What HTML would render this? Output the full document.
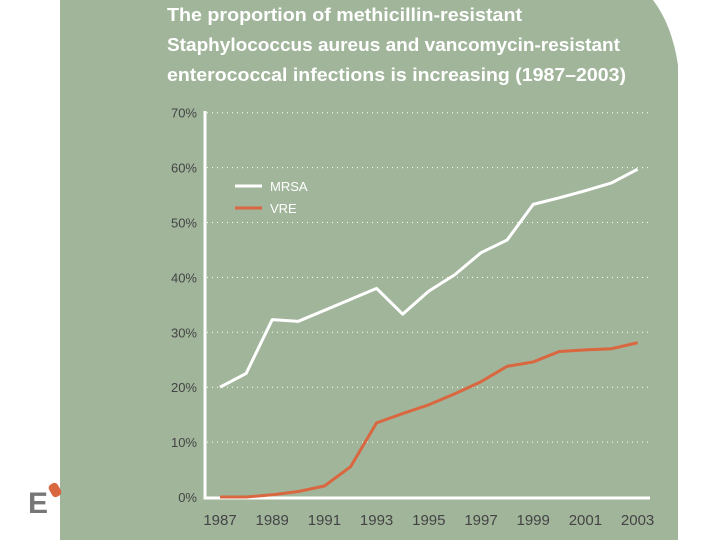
<!DOCTYPE html>
<html><head><meta charset="utf-8"><style>
body{margin:0;width:720px;height:540px;background:#fff;overflow:hidden;font-family:"Liberation Sans",sans-serif}
svg{display:block}
</style></head><body>
<svg width="720" height="540">
<path d="M60,0 L653,0 Q672,25 678,65 L678,540 L60,540 Z" fill="#a1b59b"/>
<g>
<text x="28" y="513" font-size="30" fill="#777" font-weight="bold">E</text>
<rect x="50" y="483" width="10" height="14" rx="4" fill="#d9673f" transform="rotate(-30 55 490)"/>
</g>
<g fill="#fff" font-size="18" font-weight="bold">
<text x="167" y="21" textLength="355" lengthAdjust="spacingAndGlyphs">The proportion of methicillin-resistant</text>
<text x="167" y="51" textLength="453" lengthAdjust="spacingAndGlyphs">Staphylococcus aureus and vancomycin-resistant</text>
<text x="167" y="81" textLength="459" lengthAdjust="spacingAndGlyphs">enterococcal infections is increasing (1987–2003)</text>
</g>
<g id="grid"></g><g id="series"></g>
<g>
<line x1="235" y1="186" x2="262" y2="186" stroke="#fff" stroke-width="3"/>
<text x="270" y="191" font-size="13" fill="#fff">MRSA</text>
<line x1="235" y1="208" x2="262" y2="208" stroke="#d9673f" stroke-width="3"/>
<text x="270" y="213" font-size="13" fill="#fff">VRE</text>
</g>
</svg>
<script>
const years=[1987,1988,1989,1990,1991,1992,1993,1994,1995,1996,1997,1998,1999,2000,2001,2002,2003];
const mrsa=[20,22.5,32.3,32,34,36,38,33.3,37.5,40.5,44.5,46.8,53.3,54.5,55.8,57.2,59.7];
const vre=[0,0,0.4,1,2,5.5,13.5,15.2,16.8,18.8,21,23.8,24.6,26.5,26.8,27,28.1];
const yTicks=[0,10,20,30,40,50,60,70];
const xTicks=[1987,1989,1991,1993,1995,1997,1999,2001,2003];
const NS="http://www.w3.org/2000/svg";
const X=y=>220+(y-1987)*26.1;
const Y=v=>497-v*5.49;
function mk(t,a,p){const e=document.createElementNS(NS,t);for(const k in a)e.setAttribute(k,a[k]);p.appendChild(e);return e;}
const g=document.getElementById('grid'),s=document.getElementById('series');
yTicks.forEach(v=>{
 if(v>0){const l=mk('line',{x1:207,x2:650,y1:Y(v),y2:Y(v),stroke:'#fff','stroke-width':1,'stroke-dasharray':'1 4'},g);
 
 }
 const t=mk('text',{x:197,y:Y(v)+5,'font-size':13,fill:'#444','text-anchor':'end'},g);t.textContent=v+'%';
 
 
});
xTicks.forEach(v=>{const t=mk('text',{x:X(v),y:525,'font-size':15,fill:'#444','text-anchor':'middle'},g);t.textContent=v;
 
 });
const ax=mk('path',{d:'M205,111 L205,498 L650,498',fill:'none',stroke:'#fff','stroke-width':3},g);


function line(d,c,n){const p=mk('polyline',{points:d.map((v,i)=>X(years[i])+','+Y(v)).join(' '),fill:'none',stroke:c,'stroke-width':3,'stroke-linejoin':'round'},s);
 
 }
line(vre,'#d9673f','vre-line');
line(mrsa,'#fff','mrsa-line');
</script>
</body></html>
